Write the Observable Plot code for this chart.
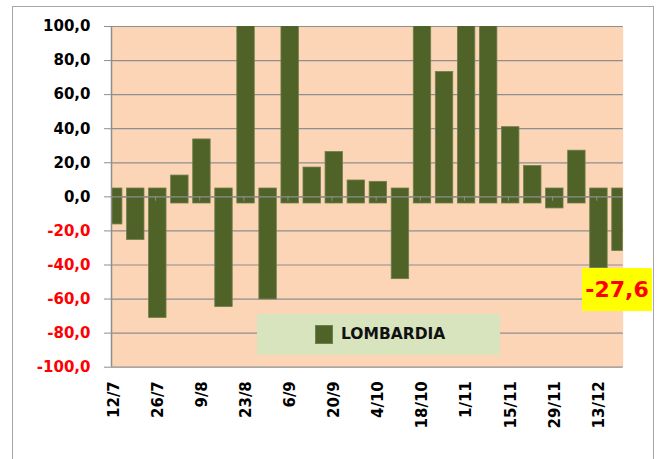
<!DOCTYPE html>
<html><head><meta charset="utf-8">
<script src="https://cdn.jsdelivr.net/npm/d3@7"></script>
<script src="https://cdn.jsdelivr.net/npm/@observablehq/plot@0.6"></script>
<style>
html,body{margin:0;padding:0;background:#fff;}
#wrap{position:relative;width:662px;height:459px;overflow:hidden;font-family:"DejaVu Sans",sans-serif;}
#border{position:absolute;left:12px;top:6px;width:642px;height:480px;border:1.5px solid #a6a6a6;box-sizing:border-box;}
#chart{position:absolute;left:0;top:0;}
#legend{position:absolute;left:257px;top:314px;width:243px;height:41px;background:#D7E4BD;}
#legend .sw{position:absolute;left:58px;top:11px;width:18px;height:18.5px;background:#4F6228;box-sizing:border-box;border:1px solid #6f7f4a;}
#legend .lb{position:absolute;left:84px;top:0;line-height:41px;font-weight:bold;font-size:15.5px;color:#111;}
#note{position:absolute;left:582px;top:268px;width:70px;height:43px;background:#FFFF00;color:#FF0000;font-weight:bold;font-size:22px;line-height:43px;text-align:center;}
</style></head>
<body>
<div id="wrap">
  <div id="border"></div>
  <div id="chart"></div>
  <div id="legend"><div class="sw"></div><div class="lb">LOMBARDIA</div></div>
  <div id="note">-27,6</div>
</div>
<script>
const dates = ["12/7","19/7","26/7","2/8","9/8","16/8","23/8","30/8","6/9","13/9","20/9","27/9","4/10","11/10","18/10","25/10","1/11","8/11","15/11","22/11","29/11","6/12","13/12","20/12"];
const values = [-16.2,-25.3,-71.1,12.5,33.7,-64.7,135,-60.2,120,17.2,26.3,9.6,8.8,-48.3,150,73.3,130,125,40.9,18.1,-6.8,27.1,-41.9,-31.8];
const labeledIdx = [0,2,4,6,8,10,12,14,16,18,20,22];
const yTicks = [-100,-80,-60,-40,-20,0,20,40,60,80,100];
const posBase = -3.9, negBase = 4.9;

const data = values.map((v,i) => ({i, v, base: v >= 0 ? posBase : negBase}));
const xDomain = [-0.1, 23.1];
const fmt = d => d.toFixed(1).replace(".", ",");
const gray = "#8e8e8e";
const font = "DejaVu Sans";

const chart = Plot.plot({
  width: 662, height: 459,
  marginLeft: 111, marginRight: 39.3, marginTop: 26, marginBottom: 92.3,
  style: {background: "transparent", fontFamily: font, overflow: "visible"},
  x: {type: "linear", domain: xDomain},
  y: {domain: [-100, 100]},
  marks: [
    Plot.frame({fill: "#FBD5B5", stroke: null}),
    Plot.gridY(yTicks, {stroke: gray, strokeOpacity: 1, strokeWidth: 1.2}),
    Plot.rectY(data, {x1: d => d.i - 0.395, x2: d => d.i + 0.395, y1: "base", y2: "v",
      fill: "#4F6228", stroke: "#6f7f4a", strokeWidth: 0.8, clip: true}),
    Plot.ruleY([0], {stroke: gray, strokeWidth: 1.2}),
    Plot.ruleX(labeledIdx, {x: d => d - 0.1, y1: 0, y2: -2.6, stroke: gray, strokeWidth: 1}),
    Plot.ruleX([xDomain[0]], {stroke: gray, strokeWidth: 1.5}),
    Plot.axisY({ticks: yTicks.filter(t => t >= 0), tickFormat: fmt, tickSize: 7, tickPadding: 14,
      stroke: gray, fill: "#000", fontWeight: "bold", fontSize: 15}),
    Plot.axisY({ticks: yTicks.filter(t => t < 0), tickFormat: fmt, tickSize: 7, tickPadding: 14,
      stroke: gray, fill: "#FF0000", fontWeight: "bold", fontSize: 15}),
    Plot.axisX({ticks: labeledIdx, tickFormat: i => dates[i], tickRotate: -90, tickSize: 0, tickPadding: 14,
      fill: "#000", fontWeight: "bold", fontSize: 15})
  ]
});
document.getElementById("chart").appendChild(chart);
</script>
</body></html>
